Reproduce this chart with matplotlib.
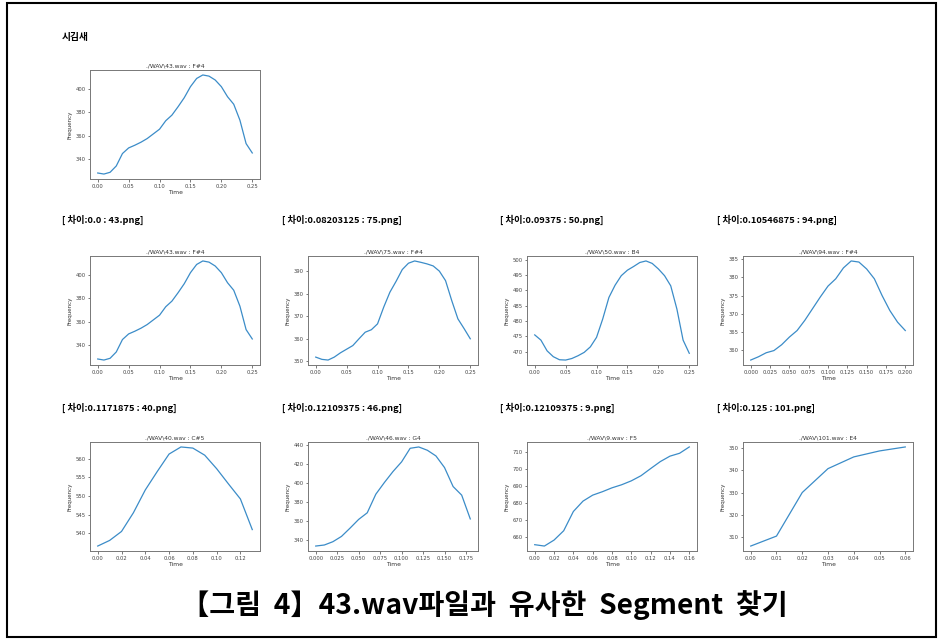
import matplotlib
matplotlib.use('Agg')
import matplotlib.pyplot as plt
from matplotlib.patches import Rectangle
from matplotlib.ticker import MultipleLocator

plt.rcParams['font.family'] = ['DejaVu Sans']

# Pitch segments (Frequency vs Time)
t43 = [0.00, 0.01, 0.02, 0.03, 0.04, 0.05, 0.06, 0.07, 0.08, 0.09, 0.10, 0.11, 0.12,
       0.13, 0.14, 0.15, 0.16, 0.17, 0.18, 0.19, 0.20, 0.21, 0.22, 0.23, 0.24, 0.25]
f43 = [328.3, 327.4, 328.9, 334.3, 344.9, 349.7, 352.0, 354.6, 357.7, 361.7, 365.7, 372.9, 377.7,
       384.9, 392.6, 402.0, 409.0, 412.0, 411.0, 407.7, 402.0, 393.4, 387.0, 373.4, 353.4, 345.4]

t75 = t43
f75 = [351.9, 350.9, 350.6, 351.9, 353.8, 355.4, 357.0, 360.0, 362.9, 364.0, 366.6, 374.0, 380.6,
       385.4, 390.6, 393.4, 394.4, 393.8, 393.1, 392.2, 389.9, 385.7, 376.9, 368.8, 364.5, 360.0]

t50 = t43
f50 = [475.5, 473.8, 470.3, 468.4, 467.4, 467.3, 467.8, 468.7, 469.8, 471.6, 474.7, 480.7, 487.7,
       491.7, 494.8, 496.6, 497.8, 499.1, 499.6, 498.8, 497.0, 494.8, 491.5, 483.9, 473.8, 469.5]

t94 = [0.00, 0.01, 0.02, 0.03, 0.04, 0.05, 0.06, 0.07, 0.08, 0.09, 0.10,
       0.11, 0.12, 0.13, 0.14, 0.15, 0.16, 0.17, 0.18, 0.19, 0.20]
f94 = [357.3, 358.2, 359.3, 359.9, 361.5, 363.6, 365.4, 368.2, 371.4, 374.6, 377.6,
       379.6, 382.6, 384.5, 384.2, 382.3, 379.6, 375.0, 370.9, 367.7, 365.4]

t40 = [0.00, 0.01, 0.02, 0.03, 0.04, 0.05, 0.06, 0.07, 0.08, 0.09, 0.10, 0.11, 0.12, 0.13]
f40 = [536.6, 538.1, 540.5, 545.5, 551.6, 556.5, 561.2, 563.1, 562.8, 560.9, 557.3, 553.2, 549.2, 541.0]

t46 = [0.00, 0.01, 0.02, 0.03, 0.04, 0.05, 0.06, 0.07, 0.08, 0.09,
       0.10, 0.11, 0.12, 0.13, 0.14, 0.15, 0.16, 0.17, 0.18]
f46 = [333.3, 334.4, 337.9, 343.5, 352.3, 361.5, 368.5, 388.2, 400.6, 412.2,
       422.4, 436.8, 438.2, 434.7, 428.7, 416.4, 396.3, 387.2, 362.0]

t9 = [0.00, 0.01, 0.02, 0.03, 0.04, 0.05, 0.06, 0.07, 0.08,
      0.09, 0.10, 0.11, 0.12, 0.13, 0.14, 0.15, 0.16]
f9 = [655.5, 654.7, 658.2, 663.7, 675.0, 681.1, 684.6, 686.6, 688.9,
      690.7, 693.0, 696.0, 700.2, 704.3, 707.5, 709.2, 712.9]

t101 = [0.00, 0.01, 0.02, 0.03, 0.04, 0.05, 0.06]
f101 = [305.8, 310.3, 330.0, 340.8, 346.1, 348.8, 350.6]

titles = ['./WAV\\43.wav : F#4', './WAV\\75.wav : F#4', './WAV\\50.wav : B4', './WAV\\94.wav : F#4',
          './WAV\\40.wav : C#5', './WAV\\46.wav : G4', './WAV\\9.wav : F5', './WAV\\101.wav : E4']
captions = ['[ 차이:0.0 : 43.png]', '[ 차이:0.08203125 : 75.png]', '[ 차이:0.09375 : 50.png]',
            '[ 차이:0.10546875 : 94.png]', '[ 차이:0.1171875 : 40.png]', '[ 차이:0.12109375 : 46.png]',
            '[ 차이:0.12109375 : 9.png]', '[ 차이:0.125 : 101.png]']

W, H = 943, 640
fig = plt.figure(figsize=(W / 100, H / 100), dpi=100)
fig.patch.set_facecolor('white')

kr = ['Noto Sans CJK KR', 'DejaVu Sans']


def px_axes(left, top, width=170, height=109):
    return fig.add_axes([left / W, 1 - (top + height) / H, width / W, height / H])


def draw(ax, t, f, title, xstep, ystep):
    ax.plot(t, f, color='#3b8cc8', linewidth=0.9)
    ax.set_title(title, fontsize=4.3, pad=2, color='#333333')
    ax.set_xlabel('Time', fontsize=4.3, labelpad=1, color='#333333')
    ax.set_ylabel('Frequency', fontsize=4.0, labelpad=2, color='#333333')
    ax.xaxis.set_major_locator(MultipleLocator(xstep))
    ax.yaxis.set_major_locator(MultipleLocator(ystep))
    ax.xaxis.set_major_formatter(plt.FormatStrFormatter('%.3f' if xstep == 0.025 else '%.2f'))
    ax.tick_params(labelsize=3.8, length=1.8, width=0.5, pad=1.5, colors='#444444')
    for s in ax.spines.values():
        s.set_color('#777777')
        s.set_linewidth(0.7)


# top example
fig.text(62 / W, 1 - 37 / H, '시김새', family=kr, fontsize=7, fontweight='bold', va='center')
ax0 = px_axes(90, 70)
draw(ax0, t43, f43, titles[0], 0.05, 20)

series = [(t43, f43), (t75, f75), (t50, f50), (t94, f94),
          (t40, f40), (t46, f46), (t9, f9), (t101, f101)]
xsteps = [0.05, 0.05, 0.05, 0.025, 0.02, 0.025, 0.02, 0.01]
ysteps = [20, 10, 5, 5, 5, 20, 10, 10]

lefts = [90, 308, 527, 743]
label_x = [62, 282, 500, 717]
for i, (t, f) in enumerate(series):
    r, c = divmod(i, 4)
    top = 256 if r == 0 else 442
    ly = 220 if r == 0 else 408
    fig.text(label_x[c] / W, 1 - ly / H, captions[i], family=kr, fontsize=6.7,
             fontweight='bold', va='center')
    ax = px_axes(lefts[c], top)
    draw(ax, t, f, titles[i], xsteps[i], ysteps[i])

fig.text(484 / W, 1 - 605 / H, '【그림  4】43.wav파일과  유사한  Segment  찾기', family=kr,
         fontsize=20.3, fontweight='bold', ha='center', va='center')

fig.patches.append(Rectangle((7 / W, 3 / H), 929 / W, 634 / H, transform=fig.transFigure,
                             fill=False, edgecolor='black', linewidth=1.5))

fig.savefig('out.png', dpi=100)
